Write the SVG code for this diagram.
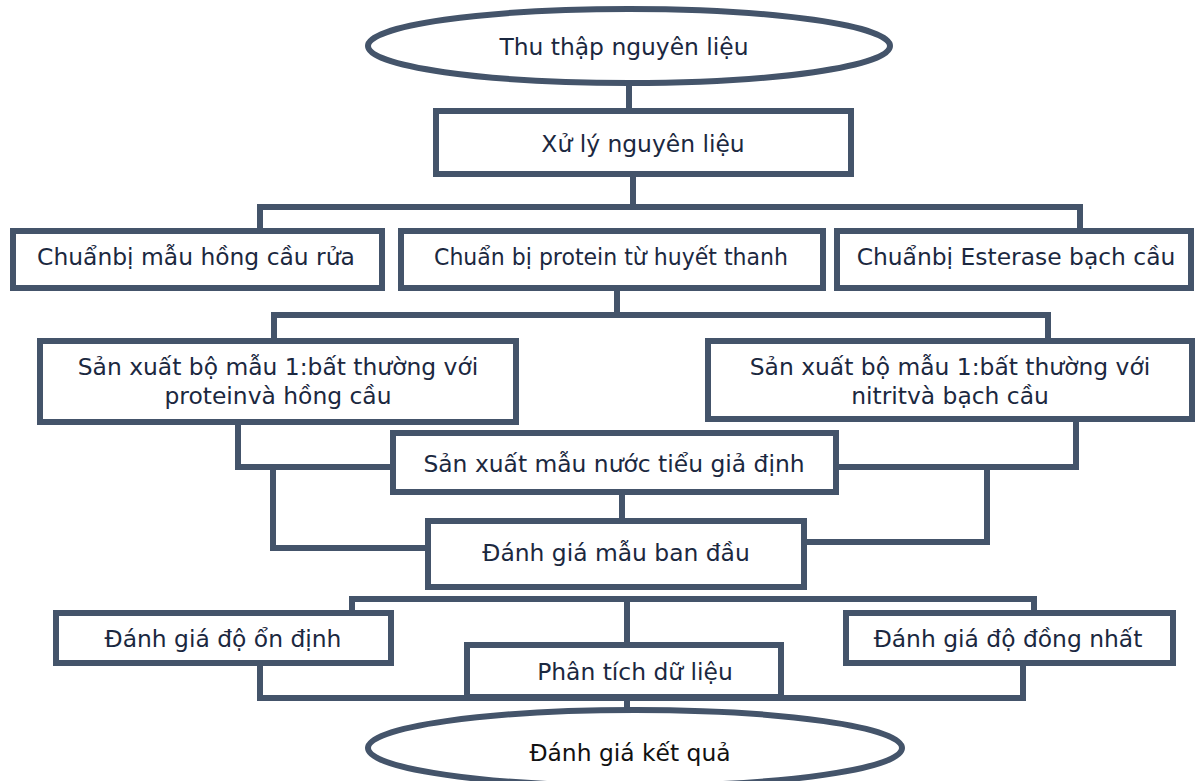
<svg xmlns="http://www.w3.org/2000/svg" width="1198" height="781" viewBox="0 0 1198 781">
<style>
.s{fill:#fff;stroke:#44546A;stroke-width:6}
.c{fill:none;stroke:#44546A;stroke-width:6;stroke-linejoin:miter}
text{font-family:"DejaVu Sans","Liberation Sans",sans-serif;font-size:23.4px;fill:#1b2840;text-anchor:middle}
</style>
<rect width="1198" height="781" fill="#fff"/>
<g id="connectors">
<path class="c" d="M629,83V111"/>
<path class="c" d="M633,174V207"/>
<path class="c" d="M260,231V207H1080V231"/>
<path class="c" d="M617,288V315"/>
<path class="c" d="M274,341V315H1048V341"/>
<path class="c" d="M238,422V467H393"/>
<path class="c" d="M273,467V548H428"/>
<path class="c" d="M836,467H1076V419"/>
<path class="c" d="M804,542H987V467"/>
<path class="c" d="M622,492V521"/>
<path class="c" d="M352,613V599H1034V613"/>
<path class="c" d="M627,599V645"/>
<path class="c" d="M260,663V698H1023V663"/>
<path class="c" d="M627,697V710"/>
</g>
<g id="n1"><ellipse class="s" cx="629" cy="46" rx="261" ry="37"/><text x="624" y="55">Thu thập nguyên liệu</text></g>
<g id="n2"><rect class="s" x="436" y="111" width="415" height="63"/><text x="643" y="152">Xử lý nguyên liệu</text></g>
<g id="n3"><rect class="s" x="13" y="231" width="369" height="57"/><text x="196" y="265">Chuẩnbị mẫu hồng cầu rửa</text></g>
<g id="n4"><rect class="s" x="401" y="231" width="422" height="57"/><text x="611" y="265" textLength="354" lengthAdjust="spacingAndGlyphs">Chuẩn bị protein từ huyết thanh</text></g>
<g id="n5"><rect class="s" x="837" y="231" width="354" height="57"/><text x="1016" y="265">Chuẩnbị Esterase bạch cầu</text></g>
<g id="n6"><rect class="s" x="40" y="341" width="476" height="81"/><text x="278" y="375">Sản xuất bộ mẫu 1:bất thường với</text><text x="278" y="404">proteinvà hồng cầu</text></g>
<g id="n7"><rect class="s" x="708" y="341" width="484" height="78"/><text x="950" y="375">Sản xuất bộ mẫu 1:bất thường với</text><text x="950" y="404">nitritvà bạch cầu</text></g>
<g id="n8"><rect class="s" x="393" y="433" width="443" height="59"/><text x="614" y="472">Sản xuất mẫu nước tiểu giả định</text></g>
<g id="n9"><rect class="s" x="428" y="521" width="376" height="66"/><text x="616" y="561">Đánh giá mẫu ban đầu</text></g>
<g id="n10"><rect class="s" x="56" y="613" width="335" height="50"/><text x="223" y="647">Đánh giá độ ổn định</text></g>
<g id="n11"><rect class="s" x="467" y="645" width="314" height="52"/><text x="635" y="680">Phân tích dữ liệu</text></g>
<g id="n12"><rect class="s" x="846" y="613" width="327" height="50"/><text x="1008" y="647">Đánh giá độ đồng nhất</text></g>
<g id="n13"><ellipse class="s" cx="635" cy="748" rx="267" ry="38"/><text x="630" y="761" style="fill:#111">Đánh giá kết quả</text></g>
</svg>
